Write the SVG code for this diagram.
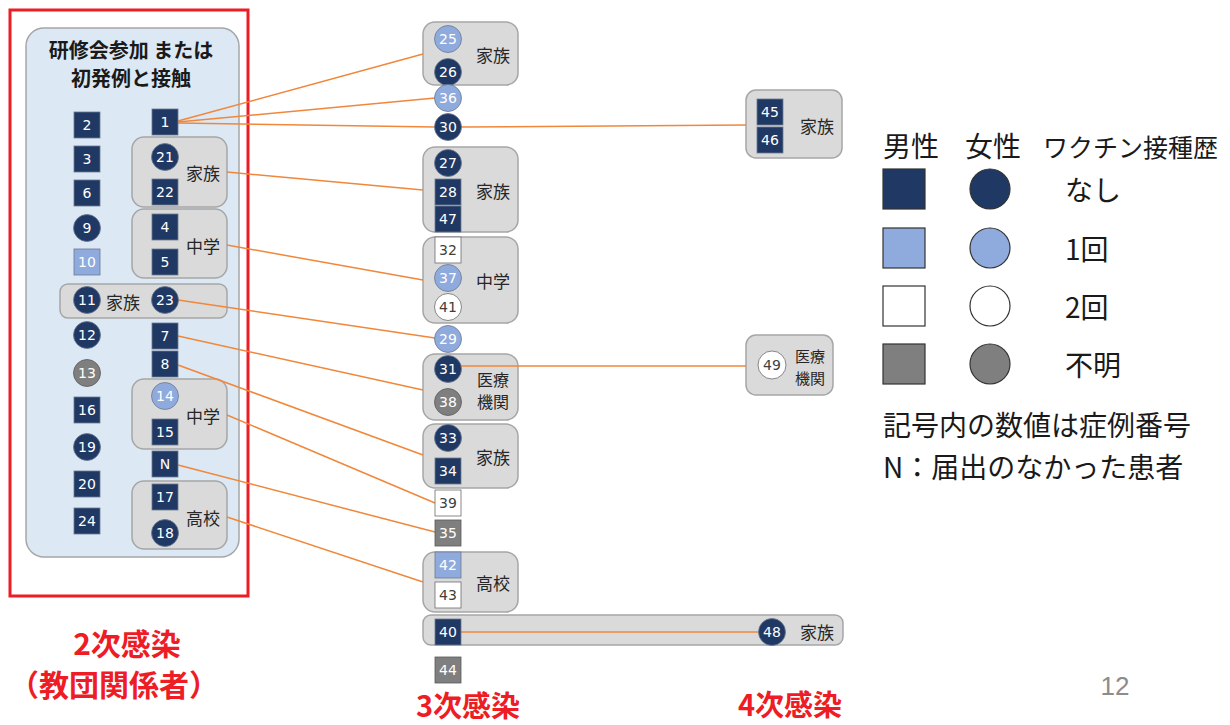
<svg xmlns="http://www.w3.org/2000/svg" width="1230" height="725" viewBox="0 0 1230 725">
<style>
.sn{fill:#1f3864;stroke:#6b7a90;stroke-width:0.8}
.sl{fill:#8faadc;stroke:#6b7a90;stroke-width:0.8}
.sw{fill:#ffffff;stroke:#6b6b6b;stroke-width:0.8}
.sg{fill:#7f7f7f;stroke:#5a5a5a;stroke-width:0.8}
.num{font-family:"DejaVu Sans",Verdana,sans-serif;font-size:14px;fill:#ffffff;text-anchor:middle;dominant-baseline:central}
.numd{font-family:"DejaVu Sans",Verdana,sans-serif;font-size:14px;fill:#404040;text-anchor:middle;dominant-baseline:central}
.box{fill:#dadada;stroke:#a6a6a6;stroke-width:1.5}
.lbl{font-family:"Noto Sans CJK JP",sans-serif;font-size:17px;fill:#262626;text-anchor:middle;dominant-baseline:central}
.lblm{font-family:"Noto Sans CJK JP",sans-serif;font-size:16px;fill:#262626;text-anchor:middle;dominant-baseline:central}
.lbls{font-family:"Noto Sans CJK JP",sans-serif;font-size:15px;fill:#262626;text-anchor:middle;dominant-baseline:central}
.con{stroke:#f0873a;stroke-width:1.5;fill:none}
.leg{font-family:"Noto Sans CJK JP",sans-serif;font-size:28px;fill:#1a1a1a;dominant-baseline:central}
.legh{font-family:"Noto Sans CJK JP",sans-serif;font-size:25px;fill:#1a1a1a;dominant-baseline:central}
.red{font-family:"Noto Sans CJK JP",sans-serif;font-size:30px;font-weight:bold;fill:#ee1c25;text-anchor:middle;dominant-baseline:central}
.lsq{stroke:#333333;stroke-width:1.2}
</style>

<!-- Panel -->
<g id="panel">
<rect x="10" y="10" width="238" height="586" fill="none" stroke="#ee1c25" stroke-width="3"/>
<rect x="26" y="28" width="213" height="529" rx="18" fill="#dde8f5" stroke="#a6a6a6" stroke-width="1.5"/>
<text x="131" y="49" font-family="Noto Sans CJK JP, sans-serif" font-size="20" font-weight="bold" fill="#1a1a1a" text-anchor="middle" dominant-baseline="central">研修会参加 または</text>
<text x="131" y="77" font-family="Noto Sans CJK JP, sans-serif" font-size="20" font-weight="bold" fill="#1a1a1a" text-anchor="middle" dominant-baseline="central">初発例と接触</text>
</g>

<!-- Group boxes -->
<g id="box-family-21-22"><rect class="box" x="132" y="137" width="95" height="70" rx="12"/><text class="lbl" x="203" y="172">家族</text></g>
<g id="box-jhs-4-5"><rect class="box" x="132" y="209" width="95" height="69" rx="12"/><text class="lbl" x="203" y="245">中学</text></g>
<g id="box-family-11-23"><rect class="box" x="60" y="284" width="167" height="34" rx="8"/><text class="lbl" x="123" y="301">家族</text></g>
<g id="box-jhs-14-15"><rect class="box" x="132" y="379" width="95" height="70" rx="12"/><text class="lbl" x="203" y="415">中学</text></g>
<g id="box-hs-17-18"><rect class="box" x="132" y="481" width="95" height="68" rx="12"/><text class="lbl" x="203" y="517">高校</text></g>

<g id="box-family-25-26"><rect class="box" x="423" y="22" width="95" height="63" rx="12"/><text class="lbl" x="493" y="54">家族</text></g>
<g id="box-family-27-28-47"><rect class="box" x="423" y="147" width="95" height="85" rx="12"/><text class="lbl" x="493" y="190">家族</text></g>
<g id="box-jhs-32-37-41"><rect class="box" x="423" y="237" width="95" height="86" rx="12"/><text class="lbl" x="493" y="280">中学</text></g>
<g id="box-med-31-38"><rect class="box" x="423" y="354" width="95" height="66" rx="12"/><text class="lblm" x="493" y="379">医療</text><text class="lblm" x="493" y="401">機関</text></g>
<g id="box-family-33-34"><rect class="box" x="423" y="424" width="95" height="64" rx="12"/><text class="lbl" x="493" y="456">家族</text></g>
<g id="box-hs-42-43"><rect class="box" x="423" y="552" width="95" height="60" rx="12"/><text class="lbl" x="493" y="582">高校</text></g>
<g id="box-family-40-48"><rect class="box" x="423" y="615" width="420" height="30" rx="8"/><text class="lbl" x="817" y="631">家族</text></g>
<g id="box-family-45-46"><rect class="box" x="746" y="90" width="96" height="68" rx="10"/><text class="lbl" x="817" y="125">家族</text></g>
<g id="box-med-49"><rect class="box" x="746" y="335" width="87" height="60" rx="10"/><text class="lbls" x="810" y="355">医療</text><text class="lbls" x="810" y="377">機関</text></g>

<!-- Connectors -->
<g id="connectors">
<line class="con" x1="178" y1="121" x2="423" y2="54"/>
<line class="con" x1="178" y1="122" x2="435" y2="98"/>
<line class="con" x1="178" y1="123" x2="435" y2="127"/>
<line class="con" x1="461" y1="127" x2="746" y2="125"/>
<line class="con" x1="227" y1="172" x2="423" y2="190"/>
<line class="con" x1="227" y1="245" x2="423" y2="280"/>
<line class="con" x1="178" y1="300" x2="435" y2="338"/>
<line class="con" x1="178" y1="336" x2="423" y2="390"/>
<line class="con" x1="178" y1="365" x2="423" y2="455"/>
<line class="con" x1="227" y1="415" x2="435" y2="503"/>
<line class="con" x1="178" y1="465" x2="435" y2="532"/>
<line class="con" x1="227" y1="517" x2="423" y2="582"/>
<line class="con" x1="461" y1="366" x2="746" y2="366"/>
<line class="con" x1="461" y1="632" x2="759" y2="632"/>
</g>

<!-- Case symbols: left column -->
<g id="c2"><rect class="sn" x="74" y="112" width="26" height="26"/><text class="num" x="87" y="125">2</text></g>
<g id="c3"><rect class="sn" x="74" y="146" width="26" height="26"/><text class="num" x="87" y="159">3</text></g>
<g id="c6"><rect class="sn" x="74" y="180" width="26" height="26"/><text class="num" x="87" y="193">6</text></g>
<g id="c9"><circle class="sn" cx="87" cy="228" r="13.5"/><text class="num" x="87" y="228">9</text></g>
<g id="c10"><rect class="sl" x="74" y="249" width="26" height="26"/><text class="num" x="87" y="262">10</text></g>
<g id="c11"><circle class="sn" cx="87" cy="300" r="13.5"/><text class="num" x="87" y="300">11</text></g>
<g id="c12"><circle class="sn" cx="87" cy="335" r="13.5"/><text class="num" x="87" y="335">12</text></g>
<g id="c13"><circle class="sg" cx="87" cy="373" r="13.5"/><text class="num" x="87" y="373">13</text></g>
<g id="c16"><rect class="sn" x="74" y="397" width="26" height="26"/><text class="num" x="87" y="410">16</text></g>
<g id="c19"><circle class="sn" cx="87" cy="447" r="13.5"/><text class="num" x="87" y="447">19</text></g>
<g id="c20"><rect class="sn" x="74" y="471" width="26" height="26"/><text class="num" x="87" y="484">20</text></g>
<g id="c24"><rect class="sn" x="74" y="508" width="26" height="26"/><text class="num" x="87" y="521">24</text></g>

<!-- right column -->
<g id="c1"><rect class="sn" x="152" y="109" width="26" height="26"/><text class="num" x="165" y="122">1</text></g>
<g id="c21"><circle class="sn" cx="165" cy="157" r="13.5"/><text class="num" x="165" y="157">21</text></g>
<g id="c22"><rect class="sn" x="152" y="179" width="26" height="26"/><text class="num" x="165" y="192">22</text></g>
<g id="c4"><rect class="sn" x="152" y="214" width="26" height="26"/><text class="num" x="165" y="227">4</text></g>
<g id="c5"><rect class="sn" x="152" y="249" width="26" height="26"/><text class="num" x="165" y="262">5</text></g>
<g id="c23"><circle class="sn" cx="165" cy="300" r="13.5"/><text class="num" x="165" y="300">23</text></g>
<g id="c7"><rect class="sn" x="152" y="323" width="26" height="26"/><text class="num" x="165" y="336">7</text></g>
<g id="c8"><rect class="sn" x="152" y="351" width="26" height="26"/><text class="num" x="165" y="364">8</text></g>
<g id="c14"><circle class="sl" cx="165" cy="396" r="13.5"/><text class="num" x="165" y="396">14</text></g>
<g id="c15"><rect class="sn" x="152" y="419" width="26" height="26"/><text class="num" x="165" y="432">15</text></g>
<g id="cN"><rect class="sn" x="152" y="451" width="26" height="26"/><text class="num" x="165" y="464">N</text></g>
<g id="c17"><rect class="sn" x="152" y="484" width="26" height="26"/><text class="num" x="165" y="497">17</text></g>
<g id="c18"><circle class="sn" cx="165" cy="533" r="13.5"/><text class="num" x="165" y="533">18</text></g>

<!-- middle column -->
<g id="c25"><circle class="sl" cx="448" cy="39" r="13.5"/><text class="num" x="448" y="39">25</text></g>
<g id="c26"><circle class="sn" cx="448" cy="72" r="13.5"/><text class="num" x="448" y="72">26</text></g>
<g id="c36"><circle class="sl" cx="448" cy="98" r="13.5"/><text class="num" x="448" y="98">36</text></g>
<g id="c30"><circle class="sn" cx="448" cy="127" r="13.5"/><text class="num" x="448" y="127">30</text></g>
<g id="c27"><circle class="sn" cx="448" cy="163" r="13.5"/><text class="num" x="448" y="163">27</text></g>
<g id="c28"><rect class="sn" x="435" y="179" width="26" height="26"/><text class="num" x="448" y="192">28</text></g>
<g id="c47"><rect class="sn" x="435" y="206" width="26" height="26"/><text class="num" x="448" y="219">47</text></g>
<g id="c32"><rect class="sw" x="435" y="237" width="26" height="26"/><text class="numd" x="448" y="250">32</text></g>
<g id="c37"><circle class="sl" cx="448" cy="278" r="13.5"/><text class="num" x="448" y="278">37</text></g>
<g id="c41"><circle class="sw" cx="448" cy="307" r="13.5"/><text class="numd" x="448" y="307">41</text></g>
<g id="c29"><circle class="sl" cx="448" cy="339" r="13.5"/><text class="num" x="448" y="339">29</text></g>
<g id="c31"><circle class="sn" cx="448" cy="369" r="13.5"/><text class="num" x="448" y="369">31</text></g>
<g id="c38"><circle class="sg" cx="448" cy="402" r="13.5"/><text class="num" x="448" y="402">38</text></g>
<g id="c33"><circle class="sn" cx="448" cy="438" r="13.5"/><text class="num" x="448" y="438">33</text></g>
<g id="c34"><rect class="sn" x="435" y="458" width="26" height="26"/><text class="num" x="448" y="471">34</text></g>
<g id="c39"><rect class="sw" x="435" y="490" width="26" height="26"/><text class="numd" x="448" y="503">39</text></g>
<g id="c35"><rect class="sg" x="435" y="520" width="26" height="26"/><text class="num" x="448" y="533">35</text></g>
<g id="c42"><rect class="sl" x="435" y="552" width="26" height="26"/><text class="num" x="448" y="565">42</text></g>
<g id="c43"><rect class="sw" x="435" y="582" width="26" height="26"/><text class="numd" x="448" y="595">43</text></g>
<g id="c40"><rect class="sn" x="435" y="619" width="26" height="26"/><text class="num" x="448" y="632">40</text></g>
<g id="c44"><rect class="sg" x="435" y="657" width="26" height="26"/><text class="num" x="448" y="670">44</text></g>

<!-- right -->
<g id="c45"><rect class="sn" x="757" y="99" width="26" height="26"/><text class="num" x="770" y="112">45</text></g>
<g id="c46"><rect class="sn" x="757" y="127" width="26" height="26"/><text class="num" x="770" y="140">46</text></g>
<g id="c49"><circle class="sw" cx="772" cy="365" r="14"/><text class="numd" x="772" y="365">49</text></g>
<g id="c48"><circle class="sn" cx="772" cy="632" r="13.5"/><text class="num" x="772" y="632">48</text></g>

<!-- Legend -->
<g id="legend">
<text class="leg" x="883" y="145">男性</text>
<text class="leg" x="965" y="145">女性</text>
<text class="legh" x="1043" y="146">ワクチン接種歴</text>
<rect class="lsq" x="883" y="169" width="42" height="40" fill="#1f3864"/>
<circle class="lsq" cx="990" cy="189" r="20" fill="#1f3864"/>
<text class="leg" x="1065" y="189">なし</text>
<rect class="lsq" x="883" y="228" width="42" height="40" fill="#8faadc"/>
<circle class="lsq" cx="990" cy="248" r="20" fill="#8faadc"/>
<text class="leg" x="1065" y="248">1回</text>
<rect class="lsq" x="883" y="286" width="42" height="40" fill="#ffffff"/>
<circle class="lsq" cx="990" cy="306" r="20" fill="#ffffff"/>
<text class="leg" x="1065" y="306">2回</text>
<rect class="lsq" x="883" y="344" width="42" height="40" fill="#7f7f7f"/>
<circle class="lsq" cx="990" cy="364" r="20" fill="#7f7f7f"/>
<text class="leg" x="1065" y="364">不明</text>
<text class="leg" x="883" y="424">記号内の数値は症例番号</text>
<text class="leg" x="883" y="466">N：届出のなかった患者</text>
</g>

<!-- Captions -->
<g id="captions">
<text class="red" x="127" y="642">2次感染</text>
<text class="red" x="114" y="683">（教団関係者）</text>
<text class="red" x="468" y="704" style="font-size:29px">3次感染</text>
<text class="red" x="790" y="703" style="font-size:29px">4次感染</text>
<text x="1115" y="686" font-family="Liberation Sans, sans-serif" font-size="26" fill="#8c8c8c" text-anchor="middle" dominant-baseline="central">12</text>
</g>
</svg>
